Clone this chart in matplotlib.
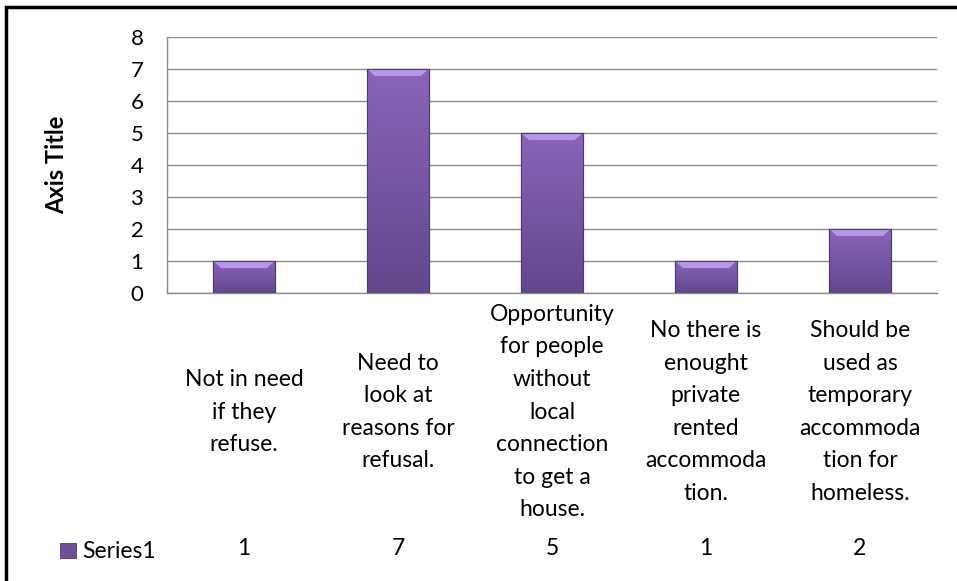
import matplotlib
matplotlib.use("Agg")
import matplotlib.pyplot as plt
import numpy as np
from matplotlib.patches import Polygon, Rectangle
from matplotlib.colors import LinearSegmentedColormap

categories = [
    "Not in need\nif they\nrefuse.",
    "Need to\nlook at\nreasons for\nrefusal.",
    "Opportunity\nfor people\nwithout\nlocal\nconnection\nto get a\nhouse.",
    "No there is\nenought\nprivate\nrented\naccommoda\ntion.",
    "Should be\nused as\ntemporary\naccommoda\ntion for\nhomeless.",
]
series_name = "Series1"
values = [1, 7, 5, 1, 2]
y_ticks = [0, 1, 2, 3, 4, 5, 6, 7, 8]

plt.rcParams["font.family"] = ["Lato", "DejaVu Sans"]

fig = plt.figure(figsize=(9.57, 5.81), dpi=100)
ax = fig.add_axes([0.1745, 0.4957, 0.8045, 0.4406])

x = np.arange(len(values))
bars = ax.bar(x, values, width=0.4, color="#7a58a6", edgecolor="#4e3a6c",
              linewidth=0.8, zorder=3)

# vertical shading inside each bar plus a light bevel along the top
body = LinearSegmentedColormap.from_list("body", ["#62478c", "#8a64ba"])
grad = np.linspace(0, 1, 256).reshape(-1, 1)
for b in bars:
    bx, by = b.get_x(), b.get_y()
    bw, bh = b.get_width(), b.get_height()
    im = ax.imshow(grad, cmap=body, origin="lower", aspect="auto",
                   extent=[bx, bx + bw, by, by + bh], zorder=3.1)
    im.set_clip_path(b)
    bev = 0.22
    ax.add_patch(Polygon([[bx, by + bh], [bx + bw, by + bh],
                          [bx + bw - bw * 0.13, by + bh - bev],
                          [bx + bw * 0.13, by + bh - bev]],
                         closed=True, facecolor="#b798e2", edgecolor="none",
                         zorder=3.2))
    ax.add_patch(Rectangle((bx, by), bw, bh, facecolor="none",
                           edgecolor="#4e3a6c", linewidth=0.8, zorder=3.3))

ax.set_xlim(-0.5, len(values) - 0.5)
ax.set_ylim(0, 8)
ax.set_yticks(y_ticks)
ax.set_xticks([])
ax.tick_params(axis="y", length=0, labelsize=16, pad=17)
ax.yaxis.grid(True, color="#8c8c8c", linewidth=1.0, zorder=0)
for side in ["left", "right", "top", "bottom"]:
    ax.spines[side].set_color("#8c8c8c")
    ax.spines[side].set_linewidth(1.0)
ax.spines["right"].set_visible(False)
ax.spines["top"].set_visible(False)

ax.set_ylabel("Axis Title", fontsize=17, fontweight="bold", labelpad=45)

# category labels and the data table row under the plot
for i, cat in enumerate(categories):
    ax.text(i, -3.72, cat, ha="center", va="center", fontsize=16.5,
            linespacing=1.68, transform=ax.transData, clip_on=False)
    ax.text(i, -8.0, str(values[i]), ha="center", va="center", fontsize=16.5,
            transform=ax.transData, clip_on=False)

fig.text(0.086, 1 - 551 / 581, series_name, ha="left", va="center", fontsize=16.5)
fig.patches.append(Rectangle((60 / 957, 1 - 558 / 581), 16 / 957, 15 / 581,
                             transform=fig.transFigure, facecolor="#6e4f9a",
                             edgecolor="#4e3a6c", linewidth=0.6))

# outer chart frame
fig.patches.append(Rectangle((6 / 957, -0.1), 1.2, 1 - 6.5 / 581 + 0.1,
                             transform=fig.transFigure, facecolor="none",
                             edgecolor="black", linewidth=2.5))

fig.savefig("out.png", dpi=100)
